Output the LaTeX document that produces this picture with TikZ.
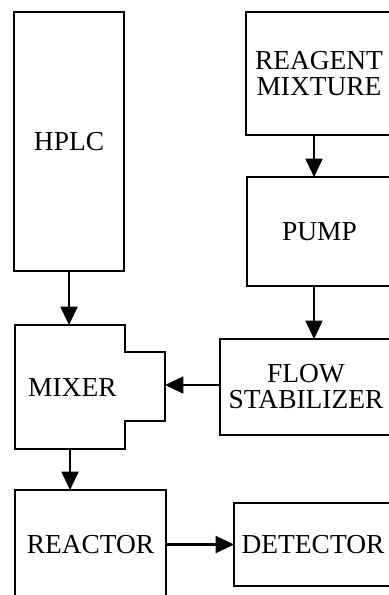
\documentclass[tikz,border=0pt]{standalone}
\usepackage{fontspec}
\setmainfont{Liberation Serif}
\usetikzlibrary{arrows.meta,calc,positioning}

\begin{document}
\begin{tikzpicture}[x=0.025cm,y=-0.025cm,
unit/.style={draw,line width=1.5pt,fill=white,inner sep=0pt,outer sep=0pt,anchor=north west,align=center,
  font=\fontsize{19.5}{18.5}\selectfont},
flow/.style={line width=1.5pt,-{Triangle[length=13pt,width=12pt]}}]
\useasboundingbox (0,0) rectangle (389,595);
\clip (0,0) rectangle (389,595);
\node[unit,minimum width=2.75cm,minimum height=6.475cm] (hplc) at (14,12) {HPLC};
\node[unit,minimum width=3.65cm,minimum height=3.075cm] (reagent) at (246,12) {REAGENT\\MIXTURE};
\node[unit,minimum width=3.625cm,minimum height=2.725cm] (pump) at (247,177) {PUMP};
\node[unit,minimum width=4.3cm,minimum height=2.4cm] (stabilizer) at (220,339) {FLOW\\STABILIZER};
\node[unit,draw=none,fill=none,minimum width=2.75cm,minimum height=3.1cm] (mixer) at (15,325) {};
\node[unit,draw=none,fill=none,minimum width=1cm,minimum height=1.725cm] (port) at (125,352) {};
\draw[line width=1.5pt,fill=white] (mixer.north west) -- (mixer.north east) -- (mixer.east |- port.north)
  -- (port.north east) -- (port.south east) -- (mixer.east |- port.south)
  -- (mixer.south east) -- (mixer.south west) -- cycle;
\node[font=\fontsize{19.5}{18.5}\selectfont] (mixertext) at ([xshift=0.06cm]mixer.center) {MIXER};
\node[unit,minimum width=3.775cm,minimum height=2.75cm] (reactor) at (15,490) {REACTOR};
\node[unit,minimum width=3.95cm,minimum height=2.075cm] (detector) at (234,503) {DETECTOR};
\draw[flow] ([xshift=-0.125cm]reagent.south) -- ([xshift=-0.125cm]reagent.south |- pump.north);
\draw[flow] ([xshift=-0.125cm]reagent.south |- pump.south) -- ([xshift=-0.125cm]reagent.south |- stabilizer.north);
\draw[flow] (hplc.south) -- (hplc.south |- mixer.north);
\draw[flow] ([yshift=0.05cm]stabilizer.west) -- ([yshift=0.05cm]stabilizer.west -| port.east);
\draw[flow] (mixer.south) -- (mixer.south |- reactor.north);
\draw[flow] (reactor.east |- detector.west) -- (detector.west);
\end{tikzpicture}
\end{document}
